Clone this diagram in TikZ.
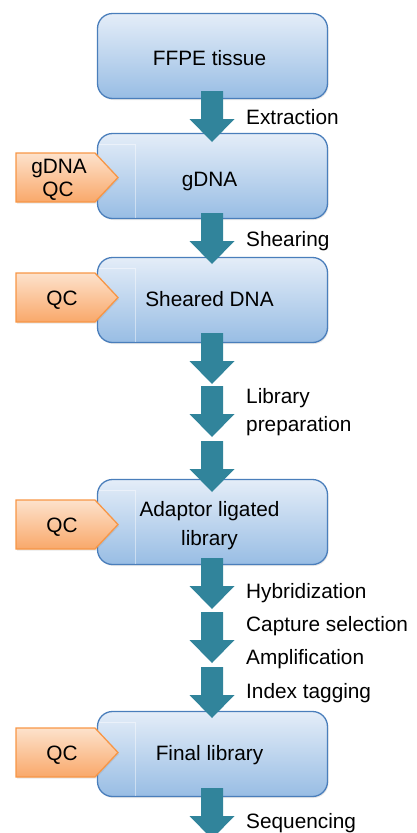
\documentclass[tikz,border=0pt]{standalone}
\usepackage{fontspec}
\setmainfont{Liberation Sans}
\usetikzlibrary{shadows,calc}
\definecolor{boxtop}{HTML}{E4EDF8}
\definecolor{boxbot}{HTML}{98BDE4}
\definecolor{boxline}{HTML}{4A7EBB}
\definecolor{tagtop}{HTML}{FDE2CC}
\definecolor{tagbot}{HTML}{F9A86A}
\definecolor{tagline}{HTML}{F79646}
\definecolor{arrowc}{HTML}{31849B}
\newcommand\blockarrow[2]{%
  \coordinate (#1) at (212,#2);
  \fill[arrowc] (#1) ++(-11,0) -- ++(22,0) -- ++(0,28) -- ++(11.5,0)
    -- ++(-22.5,23) -- ++(-22.5,-23) -- ++(11.5,0) -- cycle;}
\newcommand\qctag[2]{%
  \coordinate (#1) at (16,#2);
  \path[tagshape] (#1) ++(0,-24.5) -- ++(79,0) -- ++(23,24.5) -- ++(-23,24.5)
    -- ++(-79,0) -- cycle;}
\newcommand\innerline[1]{%
  \draw[white,opacity=0.45,line width=0.6pt]
    ($(#1.north west)+(2,11)$) -| ($(#1.south west)+(38.5,-1.5)$);}
\begin{document}
\begin{tikzpicture}[x=1pt,y=-1pt,
  box/.style={draw=boxline,line width=1.3pt,rounded corners=15pt,
    minimum width=230pt,minimum height=85pt,inner sep=0pt,
    top color=boxtop,bottom color=boxbot,
    drop shadow={opacity=0.18,shadow xshift=1pt,shadow yshift=-1.5pt}},
  tagshape/.style={draw=tagline,line width=1.3pt,top color=tagtop,bottom color=tagbot,
    drop shadow={opacity=0.18,shadow xshift=1pt,shadow yshift=-1.5pt}},
  txt/.style={inner sep=0pt,anchor=base,font=\fontsize{20.8}{24}\selectfont,text=black},
  lbl/.style={inner sep=0pt,anchor=base west,font=\fontsize{20.8}{24}\selectfont,text=black}]
\useasboundingbox (0,0) rectangle (416,833);

% process boxes
\node[box] (ffpe) at (212.5,56) {};
\node[box] (gdna) at (212.5,176) {};
\node[box] (sheared) at (212.5,300) {};
\node[box] (adaptor) at (212.5,522) {};
\node[box] (final) at (212.5,754) {};
\innerline{gdna}
\innerline{sheared}
\innerline{adaptor}
\innerline{final}

\node[txt] (tffpe) at (209.5,65) {FFPE tissue};
\node[txt] (tgdna) at (209.5,186.7) {gDNA};
\node[txt] (tsheared) at (209.5,306.7) {Sheared DNA};
\node[txt] (tadaptor1) at (209.5,516.7) {Adaptor ligated};
\node[txt] (tadaptor2) at (209.5,545) {library};
\node[txt] (tfinal) at (209.5,760) {Final library};

% QC tags
\qctag{q1}{177.5}
\qctag{q2}{297.5}
\qctag{q3}{524.5}
\qctag{q4}{752.5}
\node[txt] (tq1a) at (59,173.3) {gDNA};
\node[txt] (tq1b) at (58,196.7) {QC};
\node[txt] (tq2) at (62,305.5) {QC};
\node[txt] (tq3) at (62,532.5) {QC};
\node[txt] (tq4) at (62,760.5) {QC};

% block arrows
\blockarrow{a1}{91}
\blockarrow{a2}{213}
\blockarrow{a3}{333}
\blockarrow{a4}{386}
\blockarrow{a5}{441}
\blockarrow{a6}{558}
\blockarrow{a7}{612}
\blockarrow{a8}{667}
\blockarrow{a9}{788}

% step labels
\node[lbl] (l1) at (246,124) {Extraction};
\node[lbl] (l2) at (246,246.5) {Shearing};
\node[lbl] (l3) at (246,403) {Library};
\node[lbl] (l4) at (246,431) {preparation};
\node[lbl] (l5) at (246,598) {Hybridization};
\node[lbl] (l6) at (246,631.5) {Capture selection};
\node[lbl] (l7) at (246,664.5) {Amplification};
\node[lbl] (l8) at (246,698) {Index tagging};
\node[lbl] (l9) at (246,828) {Sequencing};
\end{tikzpicture}
\end{document}
